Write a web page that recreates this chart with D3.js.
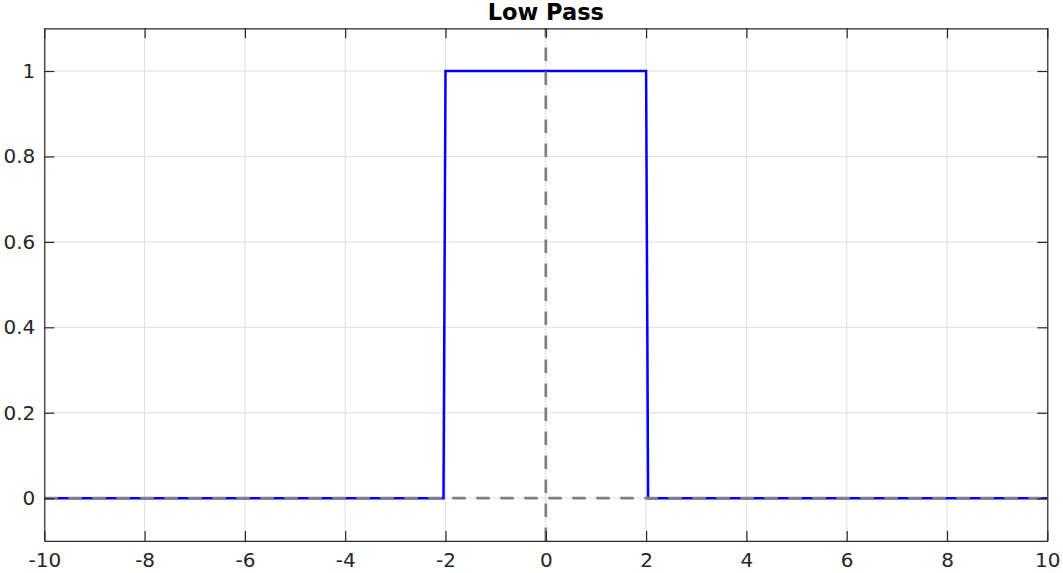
<!DOCTYPE html>
<html><head><meta charset="utf-8">
<script src="https://cdn.jsdelivr.net/npm/d3@7"></script>
<style>html,body{margin:0;padding:0;background:#fff;}svg{display:block;}</style>
</head><body><div id="chart"></div>
<script>
// Data
const freqX = [-10, -2.04, -2, 2, 2.04, 10];
const gain  = [0, 0, 1, 1, 0, 0];
const xTicks = [-10, -8, -6, -4, -2, 0, 2, 4, 6, 8, 10];
const yTicks = [0, 0.2, 0.4, 0.6, 0.8, 1];
const xDomain = [-10, 10];
const yDomain = [-0.1, 1.1];
const titleText = "Low Pass";

const W = 1063, H = 573;
const m = {left: 44.3, right: W - 1047.3, top: 28.3, bottom: H - 540.9};
const svg = d3.select("#chart").append("svg").attr("width", W).attr("height", H);
const x = d3.scaleLinear().domain(xDomain).range([m.left, W - m.right]);
const y = d3.scaleLinear().domain(yDomain).range([H - m.bottom, m.top]);
const font = "DejaVu Sans, sans-serif";
const axisColor = "#262626";

// grid
const g = svg.append("g");
g.selectAll(".gx").data(xTicks).enter().append("line")
  .attr("x1", d => x(d)).attr("x2", d => x(d)).attr("y1", y(yDomain[0])).attr("y2", y(yDomain[1]))
  .attr("stroke", "#dfdfdf").attr("stroke-width", 1);
g.selectAll(".gy").data(yTicks).enter().append("line")
  .attr("y1", d => y(d)).attr("y2", d => y(d)).attr("x1", x(xDomain[0])).attr("x2", x(xDomain[1]))
  .attr("stroke", "#dfdfdf").attr("stroke-width", 1);

// signal
const line = d3.line().x((d, i) => x(freqX[i])).y(d => y(d));
svg.append("path").datum(gain).attr("d", line)
  .attr("fill", "none").attr("stroke", "#0000ff").attr("stroke-width", 2.5)
  .attr("stroke-linejoin", "miter");

// dashed zero lines
svg.append("line").attr("x1", x(xDomain[0])).attr("x2", x(xDomain[1])).attr("y1", y(0)).attr("y2", y(0))
  .attr("stroke", "#808080").attr("stroke-width", 2.7).attr("stroke-dasharray", "13.5,10.5");
svg.append("line").attr("x1", x(0)).attr("x2", x(0)).attr("y1", y(yDomain[0])).attr("y2", y(yDomain[1]))
  .attr("stroke", "#808080").attr("stroke-width", 2.7).attr("stroke-dasharray", "13.5,10.5");

// axes (MATLAB-style box with inward ticks)
const tl = 10;
const axB = svg.append("g").attr("transform", `translate(0,${y(yDomain[0])})`)
  .call(d3.axisBottom(x).tickValues(xTicks).tickSizeInner(-tl).tickSizeOuter(0).tickPadding(12).tickFormat(d3.format("d")));
const axT = svg.append("g").attr("transform", `translate(0,${y(yDomain[1])})`)
  .call(d3.axisTop(x).tickValues(xTicks).tickSizeInner(-tl).tickSizeOuter(0).tickFormat(""));
const axL = svg.append("g").attr("transform", `translate(${x(xDomain[0])},0)`)
  .call(d3.axisLeft(y).tickValues(yTicks).tickSizeInner(-tl).tickSizeOuter(0).tickPadding(9).tickFormat(d => d3.format("")(d)));
const axR = svg.append("g").attr("transform", `translate(${x(xDomain[1])},0)`)
  .call(d3.axisRight(y).tickValues(yTicks).tickSizeInner(-tl).tickSizeOuter(0).tickFormat(""));
[axB, axT, axL, axR].forEach(a => {
  a.select(".domain").attr("stroke", axisColor).attr("stroke-width", 1.2);
  a.selectAll(".tick line").attr("stroke", axisColor).attr("stroke-width", 1.2);
  a.selectAll("text").attr("fill", axisColor).style("font-family", font).style("font-size", "20px");
});
axB.selectAll(".tick text").text(d => d < 0 ? "-" + Math.abs(d) : d);

// title
svg.append("text").attr("x", x(0)).attr("y", 20).attr("text-anchor", "middle")
  .style("font-family", font).style("font-weight", "bold").style("font-size", "22.5px").attr("fill", "#000")
  .text(titleText);
</script></body></html>
